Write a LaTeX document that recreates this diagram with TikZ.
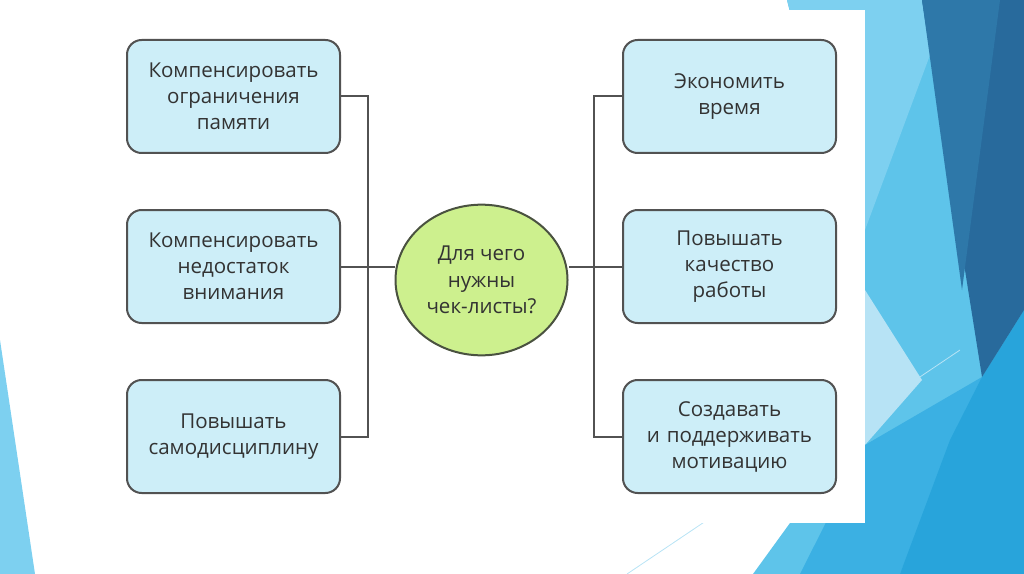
\documentclass[tikz,border=0pt]{standalone}
\usepackage{fontspec}
\setmainfont{Open Sans}
\usepackage{tikz}
\usetikzlibrary{shapes.geometric, positioning, calc}

\definecolor{boxfill}{HTML}{CDEEF8}
\definecolor{boxline}{HTML}{525252}
\definecolor{ballfill}{HTML}{CDF08E}
\definecolor{ballline}{HTML}{4A5240}
\definecolor{txt}{HTML}{333333}
\definecolor{skyA}{HTML}{5EC4EA}
\definecolor{skyB}{HTML}{7DD0F0}
\definecolor{skyC}{HTML}{B7E3F5}
\definecolor{skyD}{HTML}{2E78A9}
\definecolor{skyE}{HTML}{286A9C}
\definecolor{skyF}{HTML}{28A4DB}
\definecolor{skyG}{HTML}{3BB0E3}

\begin{document}
\begin{tikzpicture}[x=0.75pt, y=-0.75pt, node distance=127.5pt,
  box/.style={rectangle, rounded corners=11pt, draw=boxline, line width=1.5pt, fill=boxfill,
    minimum width=159.75pt, minimum height=84.75pt, text width=152pt, align=center,
    font=\fontsize{15.4}{19.5}\selectfont, text=txt},
  link/.style={draw=boxline, line width=1.5pt}]

\useasboundingbox (0,0) rectangle (1024,574);

% slide decoration
\fill[skyA] (787,0) -- (1024,0) -- (1024,574) -- (753,574) -- (790,523) -- (860,300) -- cycle;
\fill[skyB] (787,0) -- (922,0) -- (930,55) -- (865,230) -- (850,230) -- cycle;
\fill[skyC] (865,290) -- (922,380) -- (865,445) -- cycle;
\fill[skyG] (865,445) -- (982,377) -- (900,574) -- (800,574) -- cycle;
\fill[skyF] (982,377) -- (1024,310) -- (1024,574) -- (900,574) -- (950,440) -- cycle;
\fill[skyE] (922,0) -- (1024,0) -- (1024,310) -- (982,377) -- cycle;
\fill[skyD] (922,0) -- (1000,0) -- (962,290) -- cycle;
\draw[skyC, line width=0.6pt] (627,574) -- (960,350);
\fill[skyB] (0,340) -- (35,574) -- (0,574) -- cycle;

% white panel
\fill[white] (107,10) rectangle (865,523);

% centre
\node[ellipse, draw=ballline, line width=1.5pt, fill=ballfill, minimum width=129pt, minimum height=113pt,
  align=center, font=\fontsize{15.4}{20}\selectfont, text=txt] (c) at (481.5,280) {Для чего\\нужны\\чек-листы?};

% Left side
\node[box] (l2) at (233.5,266.5) {Компенсировать\\недостаток\\внимания};
\node[box, above of=l2] (l1) {Компенсировать\\ограничения\\памяти};
\node[box, below of=l2] (l3) {Повышать\\самодисциплину};
\coordinate (jl) at (368,266.5);

\draw[link] (l1.east) -| (jl) |- (l3.east);
\draw[link] (l2.east) -- (c.west |- l2.east);

% Right side
\node[box] (r2) at (729.5,266.5) {Повышать\\качество\\работы};
\node[box, above of=r2] (r1) {Экономить\\время};
\node[box, below of=r2] (r3) {Создавать\\и поддерживать\\мотивацию};
\coordinate (jr) at (594,266.5);

\draw[link] (r1.west) -| (jr) |- (r3.west);
\draw[link] (r2.west) -- (c.east |- r2.west);

\end{tikzpicture}
\end{document}
